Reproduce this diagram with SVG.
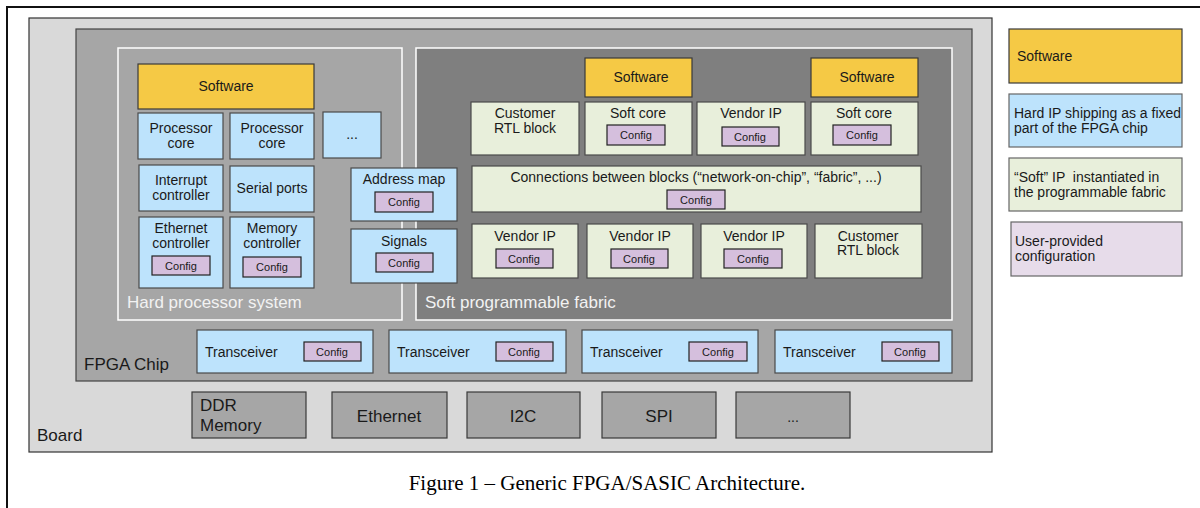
<svg xmlns="http://www.w3.org/2000/svg" width="1200" height="508" viewBox="0 0 1200 508">
<style>
text{font-family:"Liberation Sans",Arial,sans-serif;fill:#1a1a1a}
.c{text-anchor:middle}
.sw{fill:#f5c945;stroke:#3a3a3a;stroke-width:1.2}
.hw{fill:#bde3fc;stroke:#4a4a4a;stroke-width:1.2}
.soft{fill:#e8efdb;stroke:#4a4a4a;stroke-width:1.2}
.cfg{fill:#d5bfdd;stroke:#222;stroke-width:1.2}
.io{fill:#a6a6a6;stroke:#3a3a3a;stroke-width:1.2}
.t14{font-size:14px}
.t13{font-size:14px}
.t11{font-size:11px}
.t17{font-size:17px}
.lbl{font-size:17px;fill:#f2f2f2}
</style>
<rect x="0" y="0" width="1200" height="508" fill="#fff"/>
<rect x="7" y="7" width="1200" height="510" fill="#fff" stroke="#111" stroke-width="2"/>

<g id="board">
<rect x="29" y="18" width="963" height="434" fill="#d9d9d9" stroke="#333" stroke-width="1.2"/>
<text x="37" y="441" class="t17">Board</text>
</g>
<g id="fpga-chip">
<rect x="76" y="29" width="896" height="352" fill="#a6a6a6" stroke="#444" stroke-width="1.2"/>
<text x="84" y="370" class="t17">FPGA Chip</text>
</g>
<g id="hps">
<rect x="118" y="48" width="284" height="272" fill="#a6a6a6" stroke="#fff" stroke-width="1.5"/>
<text x="127" y="308" class="lbl">Hard processor system</text>
</g>
<g id="fabric">
<rect x="416" y="48" width="536" height="272" fill="#7f7f7f" stroke="#fff" stroke-width="1.5"/>
<text x="425" y="308" class="lbl">Soft programmable fabric</text>
</g>

<g id="hps-software"><rect class="sw" x="138" y="64" width="176" height="45"/><text class="c t14" x="226" y="91">Software</text></g>
<g id="proc-core-1"><rect class="hw" x="138" y="113" width="85" height="46"/><text class="c t14" x="181" y="133">Processor</text><text class="c t14" x="181" y="148">core</text></g>
<g id="proc-core-2"><rect class="hw" x="230" y="113" width="84" height="46"/><text class="c t14" x="272" y="133">Processor</text><text class="c t14" x="272" y="148">core</text></g>
<g id="hps-more"><rect class="hw" x="323" y="112" width="58" height="46"/><text class="c t13" x="352" y="139">...</text></g>
<g id="interrupt"><rect class="hw" x="139" y="165" width="84" height="46"/><text class="c t14" x="181" y="185">Interrupt</text><text class="c t14" x="181" y="200">controller</text></g>
<g id="serial"><rect class="hw" x="230" y="166" width="84" height="46"/><text class="c t14" x="272" y="193">Serial ports</text></g>
<g id="eth-ctrl"><rect class="hw" x="139" y="217" width="84" height="71"/><text class="c t14" x="181" y="233">Ethernet</text><text class="c t14" x="181" y="248">controller</text><rect class="cfg" x="152" y="256" width="58" height="19"/><text class="c t11" x="181" y="270">Config</text></g>
<g id="mem-ctrl"><rect class="hw" x="230" y="217" width="84" height="71"/><text class="c t14" x="272" y="233">Memory</text><text class="c t14" x="272" y="248">controller</text><rect class="cfg" x="243" y="257" width="58" height="20"/><text class="c t11" x="272" y="271">Config</text></g>
<g id="address-map"><rect class="hw" x="351" y="168" width="106" height="53"/><text class="c t14" x="404" y="184">Address map</text><rect class="cfg" x="375" y="192" width="58" height="20"/><text class="c t11" x="404" y="206">Config</text></g>
<g id="signals"><rect class="hw" x="351" y="229" width="106" height="54"/><text class="c t14" x="404" y="246">Signals</text><rect class="cfg" x="376" y="253" width="57" height="19"/><text class="c t11" x="404" y="267">Config</text></g>

<g id="fab-software-1"><rect class="sw" x="585" y="58" width="107" height="39"/><text class="c t14" x="641" y="82">Software</text></g>
<g id="fab-software-2"><rect class="sw" x="811" y="58" width="107" height="39"/><text class="c t14" x="867" y="82">Software</text></g>
<g id="customer-rtl-1"><rect class="soft" x="471" y="102" width="108" height="53"/><text class="c t14" x="525" y="118">Customer</text><text class="c t14" x="525" y="133">RTL block</text></g>
<g id="soft-core-1"><rect class="soft" x="585" y="102" width="107" height="53"/><text class="c t14" x="638" y="118">Soft core</text><rect class="cfg" x="607" y="125" width="58" height="20"/><text class="c t11" x="636" y="139">Config</text></g>
<g id="vendor-ip-top"><rect class="soft" x="697" y="102" width="108" height="53"/><text class="c t14" x="751" y="118">Vendor IP</text><rect class="cfg" x="722" y="127" width="57" height="19"/><text class="c t11" x="750" y="141">Config</text></g>
<g id="soft-core-2"><rect class="soft" x="811" y="102" width="107" height="53"/><text class="c t14" x="864" y="118">Soft core</text><rect class="cfg" x="833" y="125" width="58" height="20"/><text class="c t11" x="862" y="139">Config</text></g>
<g id="connections"><rect class="soft" x="472" y="166" width="449" height="46"/><text class="c t14" x="696" y="182">Connections between blocks (“network-on-chip”, “fabric”, ...)</text><rect class="cfg" x="667" y="190" width="58" height="19"/><text class="c t11" x="696" y="204">Config</text></g>
<g id="vendor-ip-1"><rect class="soft" x="472" y="224" width="106" height="54"/><text class="c t14" x="525" y="241">Vendor IP</text><rect class="cfg" x="496" y="249" width="57" height="19"/><text class="c t11" x="524" y="263">Config</text></g>
<g id="vendor-ip-2"><rect class="soft" x="587" y="224" width="106" height="54"/><text class="c t14" x="640" y="241">Vendor IP</text><rect class="cfg" x="611" y="249" width="57" height="19"/><text class="c t11" x="639" y="263">Config</text></g>
<g id="vendor-ip-3"><rect class="soft" x="701" y="224" width="106" height="54"/><text class="c t14" x="754" y="241">Vendor IP</text><rect class="cfg" x="724" y="249" width="58" height="19"/><text class="c t11" x="753" y="263">Config</text></g>
<g id="customer-rtl-2"><rect class="soft" x="815" y="224" width="107" height="54"/><text class="c t14" x="868" y="241">Customer</text><text class="c t14" x="868" y="255">RTL block</text></g>

<g id="transceiver-1"><rect class="hw" x="197" y="330" width="176" height="43"/><text class="t13" x="205" y="357">Transceiver</text><rect class="cfg" x="304" y="342" width="57" height="19"/><text class="c t11" x="332" y="356">Config</text></g>
<g id="transceiver-2"><rect class="hw" x="389" y="330" width="177" height="43"/><text class="t13" x="397" y="357">Transceiver</text><rect class="cfg" x="496" y="342" width="57" height="19"/><text class="c t11" x="524" y="356">Config</text></g>
<g id="transceiver-3"><rect class="hw" x="582" y="330" width="176" height="43"/><text class="t13" x="590" y="357">Transceiver</text><rect class="cfg" x="689" y="342" width="58" height="19"/><text class="c t11" x="718" y="356">Config</text></g>
<g id="transceiver-4"><rect class="hw" x="775" y="330" width="177" height="43"/><text class="t13" x="783" y="357">Transceiver</text><rect class="cfg" x="882" y="342" width="57" height="19"/><text class="c t11" x="910" y="356">Config</text></g>

<g id="ddr"><rect class="io" x="192" y="392" width="114" height="46"/><text x="200" y="411" class="t17">DDR</text><text x="200" y="431" class="t17">Memory</text></g>
<g id="ethernet"><rect class="io" x="332" y="392" width="115" height="46"/><text class="c t17" x="389" y="422">Ethernet</text></g>
<g id="i2c"><rect class="io" x="467" y="392" width="113" height="46"/><text class="c t17" x="523" y="422">I2C</text></g>
<g id="spi"><rect class="io" x="602" y="392" width="114" height="46"/><text class="c t17" x="659" y="422">SPI</text></g>
<g id="io-more"><rect class="io" x="736" y="392" width="114" height="46"/><text class="c" x="793" y="422" style="font-size:14px">...</text></g>

<g id="legend-software"><rect class="sw" x="1009" y="29" width="173" height="54"/><text class="t14" x="1017" y="61">Software</text></g>
<g id="legend-hard"><rect x="1009" y="94" width="173" height="53" fill="#bde3fc" stroke="#666" stroke-width="1.2"/><text class="t14" x="1014" y="118">Hard IP shipping as a fixed</text><text class="t14" x="1014" y="133">part of the FPGA chip</text></g>
<g id="legend-soft"><rect x="1009" y="158" width="173" height="53" fill="#e8efdb" stroke="#666" stroke-width="1.2"/><text class="t14" x="1014" y="182" xml:space="preserve">“Soft” IP  instantiated in</text><text class="t14" x="1014" y="197">the programmable fabric</text></g>
<g id="legend-config"><rect x="1011" y="222" width="171" height="54" fill="#e7dcea" stroke="#666" stroke-width="1.2"/><text class="t14" x="1015" y="246">User-provided</text><text class="t14" x="1015" y="261">configuration</text></g>

<g id="connectors"></g>

<text x="607" y="490" text-anchor="middle" style="font-family:'Liberation Serif','Times New Roman',serif;font-size:21px;fill:#000">Figure 1 – Generic FPGA/SASIC Architecture.</text>
</svg>
